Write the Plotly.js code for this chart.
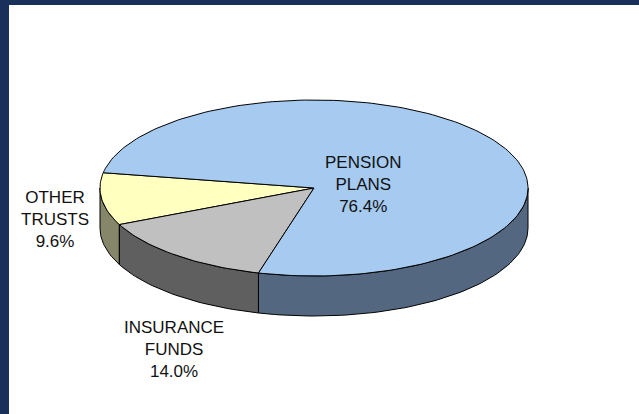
<!DOCTYPE html>
<html>
<head>
<meta charset="utf-8">
<script src="https://cdn.plot.ly/plotly-3.0.1.min.js"></script>
<style>
html,body{margin:0;padding:0;background:#18305a;}
#chart{width:639px;height:414px;}
</style>
</head>
<body>
<div id="chart"></div>
<script>
// ---- data ----
const categories = ['OTHER<br>TRUSTS', 'INSURANCE<br>FUNDS', 'PENSION<br>PLANS'];
const shares = [9.6, 14.0, 76.4];
const topColors = ['#ffffc0', '#c0c0c0', '#a6caf0'];
const sideColors = ['#86866a', '#5f5f5f', '#536880'];

// ---- geometry of the tilted pie (pixel units of the hidden axes) ----
const geo = {cx: 314, cy: 188, rx: 214, ry: 88, depth: 40, start: 170};

function pt(tDeg, dy) {
  const t = tDeg * Math.PI / 180;
  return [geo.cx + geo.rx * Math.cos(t), geo.cy - geo.ry * Math.sin(t) + (dy || 0)];
}
function arc(a, b, dy) {
  const pts = [];
  const n = Math.max(2, Math.ceil(Math.abs(b - a) / 1.5));
  for (let i = 0; i <= n; i++) pts.push(pt(a + (b - a) * i / n, dy));
  return pts;
}

const total = shares.reduce((s, v) => s + v, 0);
const spans = [];
let acc = geo.start;
shares.forEach(v => { const a = acc; acc += v / total * 360; spans.push([a, acc]); });

const sideTraces = [];
const topTraces = [];
spans.forEach(([a, b], i) => {
  // visible front wall: angles in [180, 360] (mod 360)
  [0, 360].forEach(off => {
    const lo = Math.max(a, 180 + off), hi = Math.min(b, 360 + off);
    if (hi > lo) {
      const upper = arc(lo, hi, 0);
      const lower = arc(hi, lo, geo.depth);
      const poly = upper.concat(lower);
      poly.push(upper[0]);
      sideTraces.push({
        type: 'scatter', mode: 'lines', fill: 'toself',
        x: poly.map(p => p[0]), y: poly.map(p => p[1]),
        fillcolor: sideColors[i], line: {color: '#000', width: 1},
        hoverinfo: 'skip', showlegend: false
      });
    }
  });
  const face = [[geo.cx, geo.cy]].concat(arc(a, b, 0));
  face.push([geo.cx, geo.cy]);
  topTraces.push({
    type: 'scatter', mode: 'lines', fill: 'toself',
    x: face.map(p => p[0]), y: face.map(p => p[1]),
    fillcolor: topColors[i], line: {color: '#000', width: 1},
    hoverinfo: 'text', text: categories[i].replace('<br>', ' ') + ' ' + shares[i].toFixed(1) + '%',
    showlegend: false
  });
});

const labelPos = [[55, 219], [174, 349], [363, 184]];
const annotations = categories.map((c, i) => ({
  x: labelPos[i][0], y: labelPos[i][1], xref: 'x', yref: 'y',
  text: c + '<br>' + shares[i].toFixed(1) + '%',
  showarrow: false, align: 'center', xanchor: 'center', yanchor: 'middle',
  font: {family: 'Liberation Sans, Arial, sans-serif', size: 17, color: '#111'}
}));

const layout = {
  width: 639, height: 414,
  margin: {l: 9, r: 0, t: 5, b: 0, pad: 0},
  paper_bgcolor: '#18305a',
  plot_bgcolor: '#ffffff',
  xaxis: {range: [9, 639], visible: false, fixedrange: true},
  yaxis: {range: [414, 5], visible: false, fixedrange: true},
  annotations: annotations,
  showlegend: false
};

Plotly.newPlot('chart', sideTraces.concat(topTraces), layout, {displayModeBar: false, staticPlot: true});
</script>
</body>
</html>
